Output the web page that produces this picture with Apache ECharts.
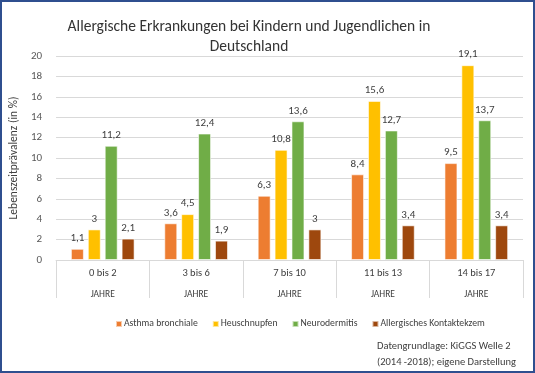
<!DOCTYPE html>
<html><head><meta charset="utf-8">
<script src="https://cdn.jsdelivr.net/npm/echarts@6/dist/echarts.min.js"></script>
<style>
html,body{margin:0;padding:0;background:#fff;}
#frame{position:absolute;left:0;top:0;width:531px;height:369px;border:2px solid #2F4F8F;}
#c{position:absolute;left:0;top:0;width:535px;height:373px;}
</style></head>
<body><div id="frame"></div><div id="c"></div>
<script>
const categories = ['0 bis 2', '3 bis 6', '7 bis 10', '11 bis 13', '14 bis 17'];
const asthma = [1.1, 3.6, 6.3, 8.4, 9.5];
const heuschnupfen = [3, 4.5, 10.8, 15.6, 19.1];
const neurodermitis = [11.2, 12.4, 13.6, 12.7, 13.7];
const kontaktekzem = [2.1, 1.9, 3, 3.4, 3.4];
const seriesNames = ['Asthma bronchiale', 'Heuschnupfen', 'Neurodermitis', 'Allergisches Kontaktekzem'];
const colors = ['#ED7D31', '#FFC000', '#70AD47', '#9E480E'];
const font = 'Carlito, Calibri, "Open Sans", sans-serif';

const chart = echarts.init(document.getElementById('c'), null, {renderer: 'canvas'});
const mk = (name, data, color) => ({
  name, type: 'bar', data, barWidth: 13, barGap: '30%',
  itemStyle: {color, borderColor: 'rgba(255,255,255,0.6)', borderWidth: 1},
  label: {show: true, position: 'top', distance: 5, color: '#404040', fontSize: 11, fontFamily: font,
    formatter: p => String(p.value).replace('.', ',')}
});
chart.setOption({
  animation: false,
  title: {
    text: 'Allergische Erkrankungen bei Kindern und Jugendlichen in\nDeutschland',
    left: 244, top: 12, textAlign: 'center',
    textStyle: {fontSize: 15.5, fontWeight: 'normal', color: '#333', fontFamily: font, lineHeight: 20}
  },
  legend: {
    data: seriesNames, left: 110, top: 314, width: 430, itemWidth: 6, itemHeight: 6, itemGap: 14,
    icon: 'rect', textStyle: {fontSize: 9.7, color: '#404040', fontFamily: font, padding: [0,0,0,-3]}
  },
  grid: {left: 51, right: 12, top: 56, bottom: 113, containLabel: false},
  xAxis: {
    type: 'category', data: categories,
    axisLine: {lineStyle: {color: '#d9d9d9'}},
    axisTick: {show: true, length: 38, lineStyle: {color: '#d9d9d9'}},
    axisLabel: {
      margin: 3, interval: 0, fontFamily: font,
      formatter: v => '{a|' + v + '}\n{b|JAHRE}',
      rich: {a: {fontSize: 10.5, color: '#404040', lineHeight: 21, fontFamily: font},
             b: {fontSize: 9.5, color: '#404040', lineHeight: 21, fontFamily: font}}
    }
  },
  yAxis: {
    type: 'value', min: 0, max: 20, interval: 2,
    name: 'Lebenszeitprävalenz (in %)', nameLocation: 'middle', nameGap: 24, nameRotate: 90,
    nameTextStyle: {fontSize: 11.5, color: '#404040', fontFamily: font},
    axisLine: {show: false}, axisTick: {show: false},
    axisLabel: {fontSize: 11, color: '#595959', margin: 14, fontFamily: font},
    splitLine: {lineStyle: {color: '#d9d9d9'}}
  },
  graphic: [{
    type: 'text', left: 377, top: 338,
    style: {text: 'Datengrundlage: KiGGS Welle 2\n(2014 -2018); eigene Darstellung', fontSize: 10.5,
      lineHeight: 16, fill: '#404040', fontFamily: font}
  }],
  series: [mk(seriesNames[0], asthma, colors[0]), mk(seriesNames[1], heuschnupfen, colors[1]),
           mk(seriesNames[2], neurodermitis, colors[2]), mk(seriesNames[3], kontaktekzem, colors[3])]
});
</script></body></html>
